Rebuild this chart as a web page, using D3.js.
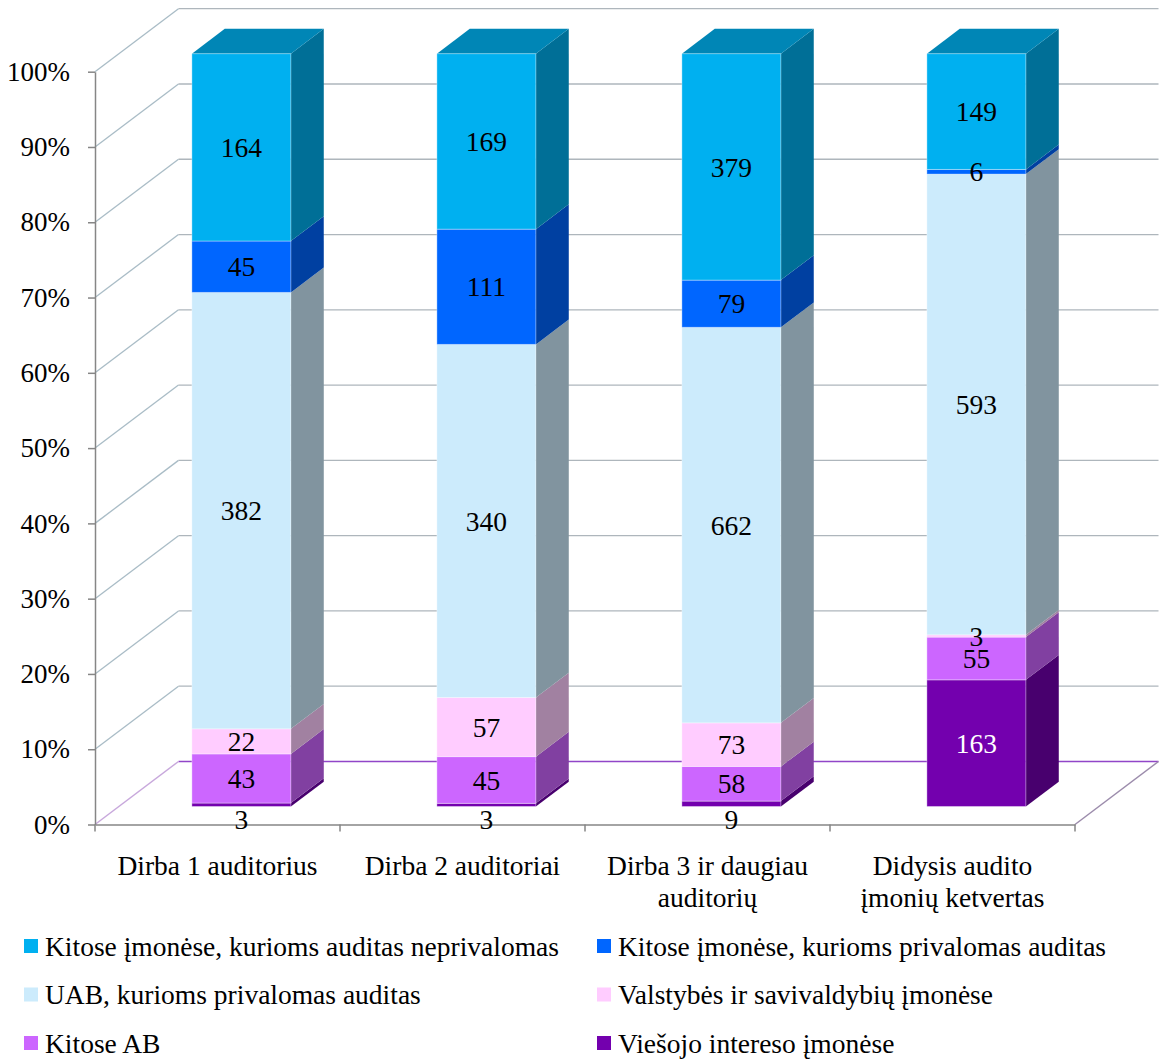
<!DOCTYPE html>
<html>
<head>
<meta charset="utf-8">
<script src="https://d3js.org/d3.v7.min.js"></script>
<style>
  body { margin: 0; background: #fff; }
  svg text { font-family: "Liberation Serif", "DejaVu Serif", serif; }
</style>
</head>
<body>
<div id="chart"></div>
<script>
// categories (x axis), line breaks with \n
var categories = ["Dirba 1 auditorius", "Dirba 2 auditoriai", "Dirba 3 ir daugiau\nauditorių", "Didysis audito\nįmonių ketvertas"];

// series values, bottom to top of the stack
var viesojo      = [3, 3, 9, 163];
var kitoseAB     = [43, 45, 58, 55];
var valstybes    = [22, 57, 73, 3];
var uab          = [382, 340, 662, 593];
var privalomas   = [45, 111, 79, 6];
var neprivalomas = [164, 169, 379, 149];

var seriesNames = ["Viešojo intereso įmonėse", "Kitose AB", "Valstybės ir savivaldybių įmonėse",
  "UAB, kurioms privalomas auditas", "Kitose įmonėse, kurioms privalomas auditas",
  "Kitose įmonėse, kurioms auditas neprivalomas"];
var seriesValues = [viesojo, kitoseAB, valstybes, uab, privalomas, neprivalomas];
var seriesColors = ["#7300AE", "#CC66FF", "#FFCCFF", "#CCEBFC", "#0066FF", "#00B0F0"];

// legend order (rows of two)
var legendOrder = [5, 4, 3, 2, 1, 0];

var yTicks = [0, 0.1, 0.2, 0.3, 0.4, 0.5, 0.6, 0.7, 0.8, 0.9, 1];

var FONT = "'Liberation Serif', 'DejaVu Serif', serif";
var FS = "27.5px";
var W = 1166, H = 1059;
var plotL = 95, plotR = 1075, plotT = 71.7, plotB = 824.5;
var DX = 83.5, DY = -63;          // depth of the 3d box
var dFront = 0.286, dBack = 0.68; // bar depth in the box
var barW = 99;

function shade(c, f) {
  var r = d3.rgb(c);
  return d3.rgb(r.r * f, r.g * f, r.b * f).formatHex();
}

// build table for the stack
var table = categories.map(function(c, i) {
  var row = { cat: c };
  seriesNames.forEach(function(s, j) { row[s] = seriesValues[j][i]; });
  return row;
});
var stacked = d3.stack().keys(seriesNames).offset(d3.stackOffsetExpand)(table);

var x = d3.scaleBand().domain(categories).range([plotL, plotR]);
var y = d3.scaleLinear().domain([0, 1]).range([plotB, plotT]);

var svg = d3.select("#chart").append("svg")
  .attr("width", W).attr("height", H);

// back wall and side wall gridlines
var grid = svg.append("g");
yTicks.forEach(function(t) {
  if (t === 0) return;
  grid.append("line")
    .attr("x1", plotL).attr("y1", y(t))
    .attr("x2", plotL + DX).attr("y2", y(t) + DY)
    .attr("stroke", "#A9BCC6").attr("stroke-width", 1.3);
  grid.append("line")
    .attr("x1", plotL + DX).attr("y1", y(t) + DY)
    .attr("x2", plotR + DX).attr("y2", y(t) + DY)
    .attr("stroke", "#AEB6BC").attr("stroke-width", 1.3);
});

// floor
grid.append("line")
  .attr("x1", plotL + DX).attr("y1", plotB + DY)
  .attr("x2", plotR + DX).attr("y2", plotB + DY)
  .attr("stroke", "#9146C8").attr("stroke-width", 1.5);
grid.append("line")
  .attr("x1", plotL).attr("y1", plotB)
  .attr("x2", plotL + DX).attr("y2", plotB + DY)
  .attr("stroke", "#C8A8DC").attr("stroke-width", 1.5);
grid.append("line")
  .attr("x1", plotR).attr("y1", plotB)
  .attr("x2", plotR + DX).attr("y2", plotB + DY)
  .attr("stroke", "#9C8CAC").attr("stroke-width", 1.5);

// axes
var yAxis = svg.append("g")
  .attr("transform", "translate(" + plotL + ",0)")
  .call(d3.axisLeft(y).tickValues(yTicks).tickFormat(d3.format(".0%"))
    .tickSize(7).tickSizeOuter(0).tickPadding(18));
yAxis.selectAll("path, line").attr("stroke", "#868686").attr("stroke-width", 1.5);
yAxis.selectAll("text").style("font-size", "27px").attr("fill", "#000")
  .style("font-family", FONT);

var xAxis = svg.append("g")
  .attr("transform", "translate(0," + plotB + ")")
  .call(d3.axisBottom(x).tickSize(0).tickSizeOuter(0).tickPadding(0));
xAxis.select("path").attr("stroke", "#868686").attr("stroke-width", 1.5);
xAxis.selectAll("text").remove();
// boundary ticks
var bounds = categories.map(function(c) { return x(c); }).concat([plotR]);
xAxis.selectAll(".bt").data(bounds).enter().append("line")
  .attr("x1", function(d) { return d; }).attr("x2", function(d) { return d; })
  .attr("y1", 0).attr("y2", 7)
  .attr("stroke", "#868686").attr("stroke-width", 1.5);
// category labels
xAxis.selectAll(".cl").data(categories).enter().append("text")
  .attr("x", function(d) { return x(d) + x.bandwidth() / 2; })
  .attr("y", 50)
  .attr("text-anchor", "middle")
  .style("font-size", FS).style("font-family", FONT).attr("fill", "#000")
  .each(function(d) {
    var t = d3.select(this);
    d.split("\n").forEach(function(line, i) {
      t.append("tspan").attr("x", x(d) + x.bandwidth() / 2)
        .attr("dy", i === 0 ? 0 : 32).text(line);
    });
  });

// bars
var bx = function(c) { return x(c) + (x.bandwidth() - barW) / 2 + dFront * DX; };
var by = function(v) { return y(v) + dFront * DY; };
var ddx = (dBack - dFront) * DX, ddy = (dBack - dFront) * DY;

var bars = svg.append("g");
stacked.forEach(function(layer, j) {
  var col = seriesColors[j];
  layer.forEach(function(seg, i) {
    var c = categories[i];
    var xl = bx(c), xr = xl + barW;
    var y0 = by(seg[0]), y1 = by(seg[1]);
    // side face
    bars.append("path")
      .attr("d", "M" + xr + "," + y0 + "L" + xr + "," + y1 + "L" + (xr + ddx) + "," + (y1 + ddy) +
        "L" + (xr + ddx) + "," + (y0 + ddy) + "Z")
      .attr("fill", shade(col, 0.63));
    // top face of the last series
    if (j === stacked.length - 1) {
      bars.append("path")
        .attr("d", "M" + xl + "," + y1 + "L" + xr + "," + y1 + "L" + (xr + ddx) + "," + (y1 + ddy) +
          "L" + (xl + ddx) + "," + (y1 + ddy) + "Z")
        .attr("fill", shade(col, 0.76));
    }
    // front face
    bars.append("rect")
      .attr("x", xl).attr("y", y1)
      .attr("width", barW).attr("height", y0 - y1)
      .attr("fill", col)
      .attr("stroke", "rgba(255,255,255,0.35)").attr("stroke-width", 1);
  });
});

// value labels
var labels = svg.append("g");
stacked.forEach(function(layer, j) {
  layer.forEach(function(seg, i) {
    var c = categories[i];
    var share = seg[1] - seg[0];
    var ly = by((seg[0] + seg[1]) / 2);
    var fill = j === 0 ? "#fff" : "#000";
    if (j === 0 && share < 0.02) { ly = by(0) + 13; fill = "#000"; }
    labels.append("text")
      .attr("x", bx(c) + barW / 2)
      .attr("y", ly)
      .attr("dy", "0.35em")
      .attr("text-anchor", "middle")
      .style("font-size", FS).style("font-family", FONT)
      .attr("fill", fill)
      .text(seriesValues[j][i]);
  });
});

// legend
var legend = svg.append("g");
legendOrder.forEach(function(j, k) {
  var col = k % 2, row = Math.floor(k / 2);
  var lx = col === 0 ? 24 : 597;
  var ly = 946 + row * 48.5;
  legend.append("rect")
    .attr("x", lx).attr("y", ly - 7).attr("width", 14).attr("height", 14)
    .attr("fill", seriesColors[j]);
  legend.append("text")
    .attr("x", lx + 21).attr("y", ly).attr("dy", "0.35em")
    .style("font-size", FS).style("font-family", FONT).attr("fill", "#000")
    .text(seriesNames[j]);
});
</script>
</body>
</html>
